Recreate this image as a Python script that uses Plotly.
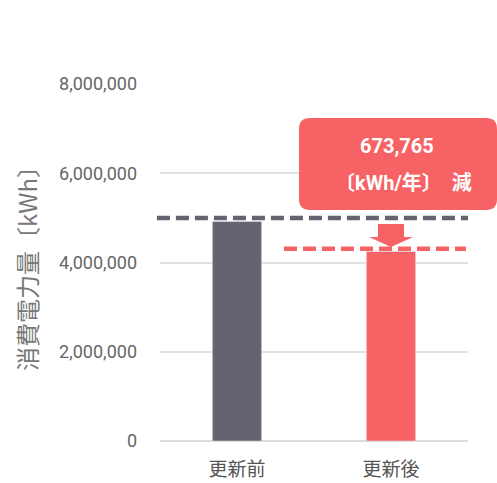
import plotly.graph_objects as go

categories = ["更新前", "更新後"]
values = [4920000, 4246235]
bar_colors = ["#66626f", "#f76264"]
tick_vals = [0, 2000000, 4000000, 6000000, 8000000]
tick_text = ["0", "2,000,000", "4,000,000", "6,000,000", "8,000,000"]
reduction_label = "673,765"
unit_label = "〔kWh/年〕　減"
before_line = 5000000
after_line = 4310000

RED = "#f76264"
GRAY = "#66626f"

fig = go.Figure()
fig.add_trace(go.Bar(x=categories, y=values, marker_color=bar_colors,
                     width=0.32, hoverinfo="skip"))


def rounded_rect(x0, y0, x1, y1, r):
    return (f"M{x0+r},{y0} L{x1-r},{y0} Q{x1},{y0} {x1},{y0+r} "
            f"L{x1},{y1-r} Q{x1},{y1} {x1-r},{y1} L{x0+r},{y1} "
            f"Q{x0},{y1} {x0},{y1-r} L{x0},{y0+r} Q{x0},{y0} {x0+r},{y0} Z")


shapes = [
    dict(type="line", xref="paper", x0=-0.01, x1=1.0, yref="y",
         y0=before_line, y1=before_line,
         line=dict(color=GRAY, width=4.5, dash="13px,6px"), layer="above"),
    dict(type="line", xref="x", x0=0.305, x1=1.487, yref="y",
         y0=after_line, y1=after_line,
         line=dict(color=RED, width=4.5, dash="13px,6px"), layer="above"),
    # callout box (paper refs so it is not clipped to the plot area)
    dict(type="path", xref="paper", yref="paper", xsizemode="pixel",
         ysizemode="pixel", xanchor=0.75, yanchor=1.0,
         path=rounded_rect(-92, -126, 106, -34, 11),
         fillcolor=RED, line=dict(width=0), layer="above"),
    # down arrow
    dict(type="path", xref="x", yref="y", xsizemode="pixel", ysizemode="pixel",
         xanchor=1, yanchor=before_line,
         path="M-13,-6 L13,-6 L13,-19 L22,-19 L0,-29 L-22,-19 L-13,-19 Z",
         fillcolor=RED, line=dict(width=0), layer="above"),
]

annotations = [
    dict(text=f"<b>{reduction_label}</b>", xref="paper", yref="paper",
         x=0.75, y=1.0, xanchor="center", yanchor="middle",
         xshift=6, yshift=-62, showarrow=False,
         font=dict(family="Roboto, Noto Sans CJK JP", size=20, color="white")),
    dict(text=f"<b>{unit_label}</b>", xref="paper", yref="paper",
         x=0.75, y=1.0, xanchor="center", yanchor="middle",
         xshift=12, yshift=-99, showarrow=False,
         font=dict(family="Roboto, Noto Sans CJK JP", size=20, color="white")),
]

fig.update_layout(
    width=497, height=483,
    margin=dict(l=160, r=29, t=84, b=42),
    paper_bgcolor="white", plot_bgcolor="white",
    showlegend=False,
    shapes=shapes, annotations=annotations,
    font=dict(family="Roboto, Noto Sans CJK JP", color="#666666"),
    xaxis=dict(range=[-0.5, 1.5], showgrid=False, showline=False, ticks="",
               tickfont=dict(size=19, color="#555555",
                             family="Noto Sans CJK JP"),
               ticklabelstandoff=15, fixedrange=True, automargin=False),
    yaxis=dict(range=[0, 8000000], tickvals=tick_vals, ticktext=tick_text,
               showgrid=True, gridcolor="#e2e2e2", gridwidth=2,
               zeroline=True, zerolinecolor="#dcdcdc", zerolinewidth=2,
               showline=False, ticks="",
               tickfont=dict(size=18, color="#666666", family="Roboto"),
               ticklabelstandoff=22, automargin=False,
               title=dict(text="消費電力量〔kWh〕",
                          font=dict(size=24, color="#777777",
                                    family="Noto Sans CJK JP"),
                          standoff=14),
               fixedrange=True),
)

fig.write_html("out.html")
